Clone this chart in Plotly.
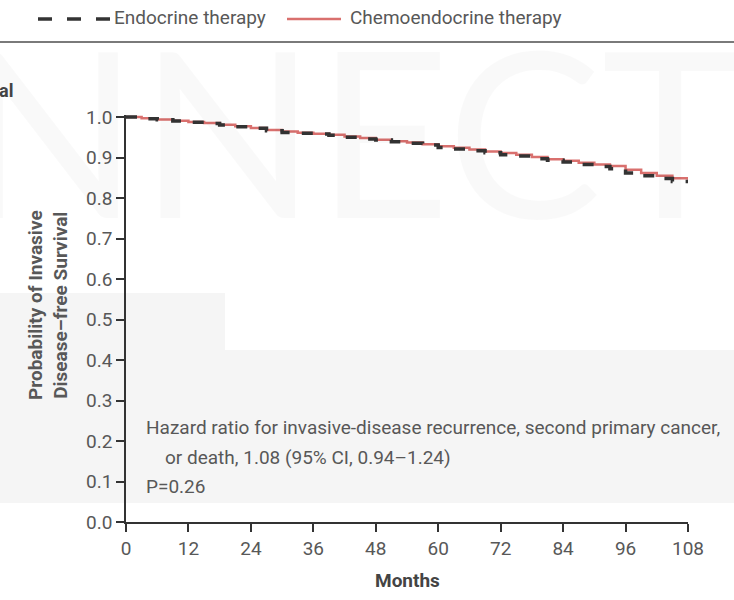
import plotly.graph_objects as go

# Kaplan-Meier estimates of invasive disease-free survival by treatment arm
months = [0, 3, 6, 9, 12, 15, 18, 21, 24, 27, 30, 33, 36, 39, 42, 45, 48, 51, 54,
          57, 60, 63, 66, 69, 72, 75, 78, 81, 84, 87, 90, 93, 96, 99, 102, 105, 108]
endocrine = [1.000, 0.996, 0.993, 0.990, 0.987, 0.984, 0.980, 0.976, 0.972, 0.966,
             0.962, 0.960, 0.958, 0.955, 0.950, 0.946, 0.943, 0.939, 0.935, 0.931,
             0.925, 0.921, 0.917, 0.912, 0.907, 0.904, 0.897, 0.893, 0.889, 0.883,
             0.878, 0.872, 0.862, 0.855, 0.848, 0.841, 0.840]
chemoendocrine = [1.000, 0.997, 0.994, 0.991, 0.988, 0.985, 0.981, 0.977, 0.973, 0.968,
                  0.964, 0.961, 0.959, 0.956, 0.952, 0.948, 0.944, 0.940, 0.937, 0.933,
                  0.928, 0.924, 0.920, 0.915, 0.911, 0.907, 0.901, 0.896, 0.892, 0.887,
                  0.883, 0.879, 0.870, 0.862, 0.855, 0.849, 0.845]

x_ticks = [0, 12, 24, 36, 48, 60, 72, 84, 96, 108]
y_ticks = [0.0, 0.1, 0.2, 0.3, 0.4, 0.5, 0.6, 0.7, 0.8, 0.9, 1.0]
y_tick_labels = [f"{v:.1f}" for v in y_ticks]

series_names = ["Endocrine therapy", "Chemoendocrine therapy"]
hr_lines = ["Hazard ratio for invasive-disease recurrence, second primary cancer,",
            "or death, 1.08 (95% CI, 0.94\u20131.24)",
            "P=0.26"]

W, H = 734, 600
L, R, T, B = 126, 46, 115, 78
FONT = "Roboto, sans-serif"
TXT = "#585858"
AX = "#333333"
RED = "#d9706e"


def px(xp):
    return (xp - L) / (W - L - R)


def py(yp):
    return (H - B - yp) / (H - T - B)


fig = go.Figure()

fig.add_trace(go.Scatter(x=months, y=chemoendocrine, mode="lines", line_shape="hv",
                         line=dict(color=RED, width=2.5), name=series_names[1],
                         showlegend=False))
fig.add_trace(go.Scatter(x=months, y=endocrine, mode="lines", line_shape="hv",
                         line=dict(color="#333333", width=3.5, dash="11px,13px"),
                         name=series_names[0], showlegend=False))

shapes = [
    # faint background band
    dict(type="rect", xref="paper", yref="paper", x0=px(0), x1=px(225), y0=py(503), y1=py(293),
         fillcolor="#f5f5f5", line_width=0, layer="below"),
    dict(type="rect", xref="paper", yref="paper", x0=px(225), x1=px(734), y0=py(503), y1=py(350),
         fillcolor="#f5f5f5", line_width=0, layer="below"),
    # rule under the legend
    dict(type="line", xref="paper", yref="paper", x0=px(0), x1=px(734), y0=py(42), y1=py(42),
         line=dict(color="#7a7a7a", width=2)),
    # legend samples
    dict(type="line", xref="paper", yref="paper", x0=px(38), x1=px(110), y0=py(19), y1=py(19),
         line=dict(color="#333333", width=3.5, dash="14px,15px")),
    dict(type="line", xref="paper", yref="paper", x0=px(287), x1=px(341), y0=py(19), y1=py(19),
         line=dict(color=RED, width=2.5)),
]

annotations = [
    dict(text="NNECT", x=px(-40), y=py(128), xref="paper", yref="paper", xanchor="left",
         yanchor="middle", showarrow=False,
         font=dict(family="Lato, sans-serif", size=232, color="rgba(0,0,0,0.025)")),
    dict(text=series_names[0], x=px(112), y=py(18), xref="paper", yref="paper",
         xanchor="left", yanchor="middle", showarrow=False,
         font=dict(family=FONT, size=19, color=TXT)),
    dict(text=series_names[1], x=px(348), y=py(18), xref="paper", yref="paper",
         xanchor="left", yanchor="middle", showarrow=False,
         font=dict(family=FONT, size=19, color=TXT)),
    dict(text="al", x=px(-3), y=py(90), xref="paper", yref="paper",
         xanchor="left", yanchor="middle", showarrow=False,
         font=dict(family=FONT, size=18, color="#444444", weight="bold")),
    dict(text="Probability of Invasive<br>Disease\u2013free Survival", x=px(48), y=py(305),
         xref="paper", yref="paper", xanchor="center", yanchor="middle", textangle=-90,
         showarrow=False, font=dict(family=FONT, size=19, color=TXT, weight="bold")),
    dict(text="Months", x=0.5, y=py(580), xref="paper", yref="paper",
         xanchor="center", yanchor="middle", showarrow=False,
         font=dict(family=FONT, size=19, color="#444444", weight="bold")),
    dict(text=hr_lines[0], x=px(144), y=py(427), xref="paper", yref="paper",
         xanchor="left", yanchor="middle", showarrow=False,
         font=dict(family=FONT, size=19, color=TXT)),
    dict(text=hr_lines[1], x=px(163), y=py(457), xref="paper", yref="paper",
         xanchor="left", yanchor="middle", showarrow=False,
         font=dict(family=FONT, size=19, color=TXT)),
    dict(text=hr_lines[2], x=px(144), y=py(486), xref="paper", yref="paper",
         xanchor="left", yanchor="middle", showarrow=False,
         font=dict(family=FONT, size=19, color=TXT)),
]

fig.update_layout(
    width=W, height=H,
    margin=dict(l=L, r=R, t=T, b=B),
    paper_bgcolor="white", plot_bgcolor="rgba(0,0,0,0)",
    showlegend=False,
    shapes=shapes,
    annotations=annotations,
    xaxis=dict(range=[0, 108], tickvals=x_ticks, ticks="outside", ticklen=8, tickwidth=1.5,
               tickcolor=AX, showline=True, linecolor=AX, linewidth=1.5, showgrid=False,
               zeroline=False, tickfont=dict(family=FONT, size=19, color=TXT)),
    yaxis=dict(range=[0, 1.005], tickvals=y_ticks, ticktext=y_tick_labels, ticks="outside",
               ticklen=8, tickwidth=1.5, tickcolor=AX, showline=True, linecolor=AX,
               linewidth=1.5, showgrid=False, zeroline=False,
               tickfont=dict(family=FONT, size=19, color=TXT)),
)

fig.write_html("out.html")
